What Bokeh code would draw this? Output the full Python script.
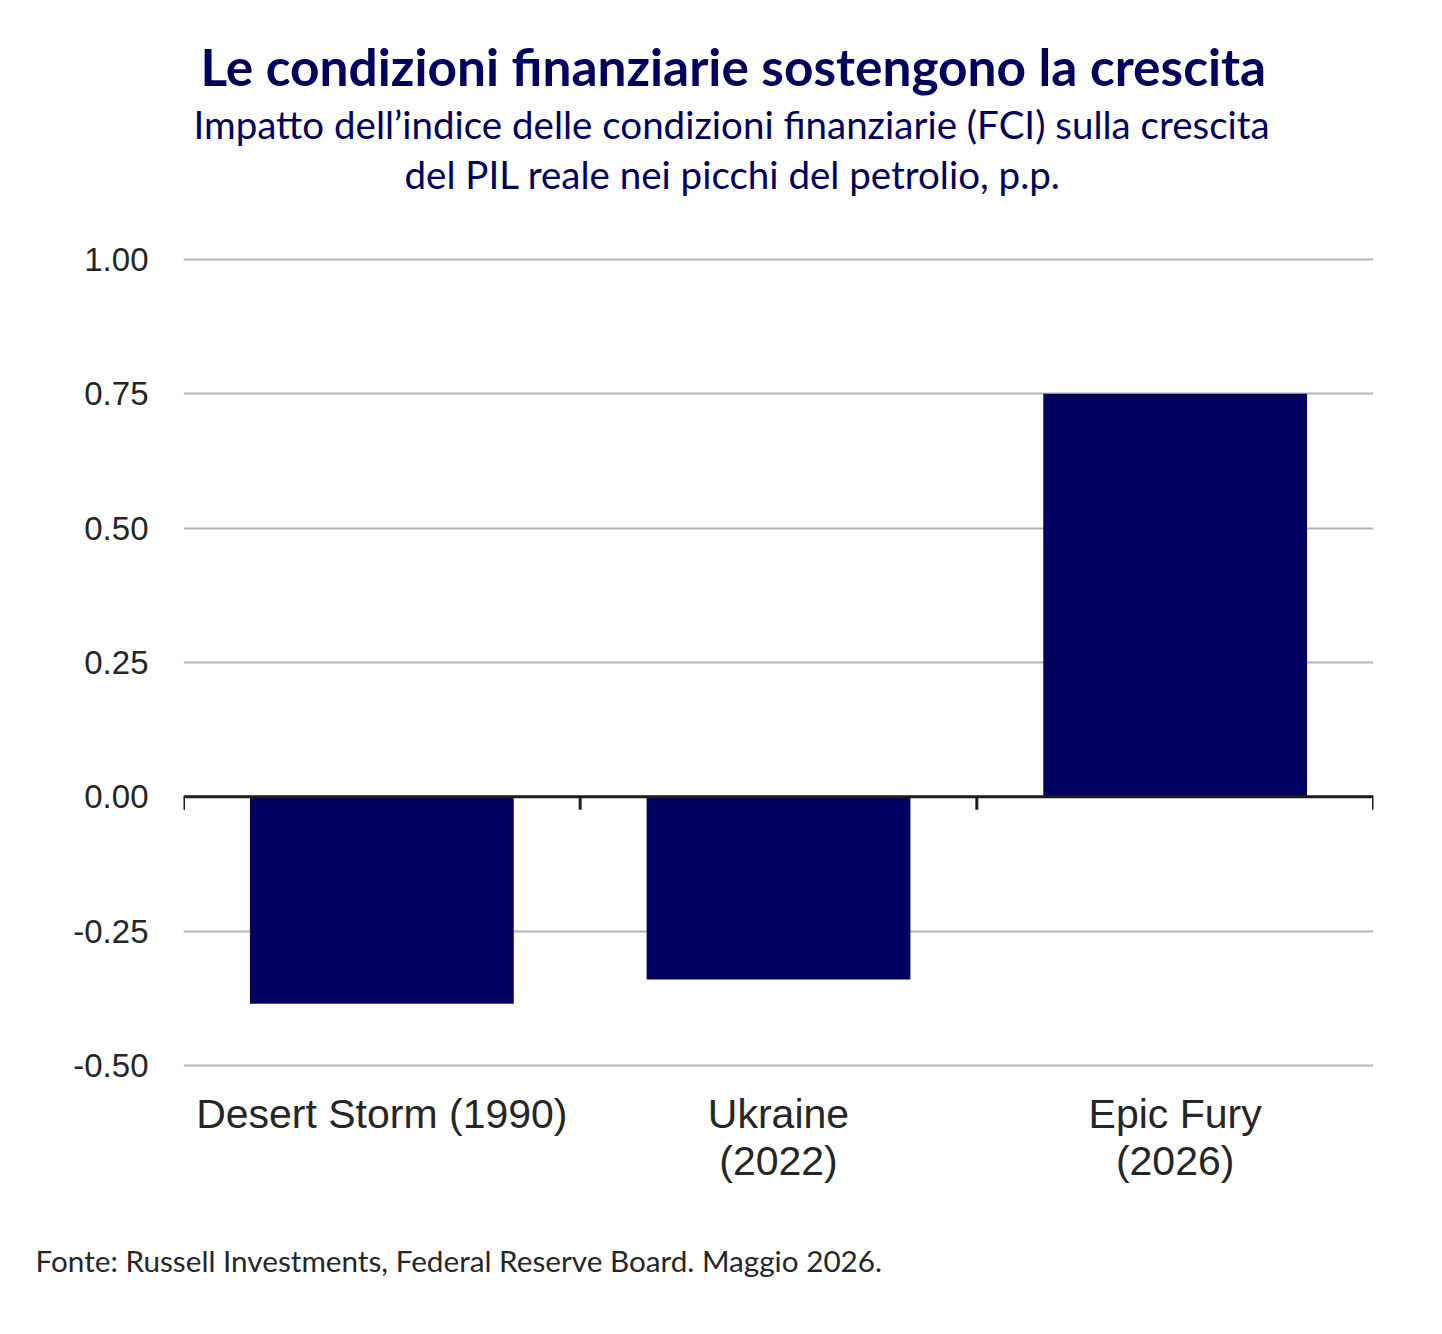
from bokeh.plotting import figure
from bokeh.models import (Range1d, FixedTicker, Span, Title, ColumnDataSource)
from bokeh.embed import file_html
from bokeh.resources import INLINE

# ---- data ----
categories = ["Desert Storm (1990)", "Ukraine\n(2022)", "Epic Fury\n(2026)"]
values = [-0.385, -0.34, 0.75]
y_ticks = [-0.5, -0.25, 0.0, 0.25, 0.5, 0.75, 1.0]
y_tick_labels = ["-0.50", "-0.25", "0.00", "0.25", "0.50", "0.75", "1.00"]

title_text = "Le condizioni finanziarie sostengono la crescita"
subtitle_1 = "Impatto dell\u2019indice delle condizioni finanziarie (FCI) sulla crescita"
subtitle_2 = "del PIL reale nei picchi del petrolio, p.p."
footer_text = "Fonte: Russell Investments, Federal Reserve Board. Maggio 2026."

NAVY = "#00005E"
TEXT = "#262626"

n = len(categories)
centers = [i + 0.5 for i in range(n)]
boundaries = list(range(n + 1))
pad = 0.0093

p = figure(width=1430, height=1334, output_backend="svg", toolbar_location=None,
           x_range=Range1d(0, n), y_range=Range1d(y_ticks[0] - pad, y_ticks[-1] + pad),
           min_border_left=183, min_border_right=57, min_border_top=254,
           min_border_bottom=264)
p.outline_line_color = None
p.background_fill_color = "white"
p.border_fill_color = "white"

src = ColumnDataSource(dict(x=centers, top=values))
p.vbar(x="x", top="top", bottom=0, width=0.665, source=src,
       fill_color=NAVY, line_color=None)

# grid
p.xgrid.grid_line_color = None
p.ygrid.grid_line_color = "#B4B4B4"
p.ygrid.grid_line_width = 2.2
p.yaxis.ticker = FixedTicker(ticks=y_ticks)
p.ygrid.ticker = FixedTicker(ticks=y_ticks)

# y axis
p.yaxis.axis_line_color = None
p.yaxis.major_tick_line_color = None
p.yaxis.minor_tick_line_color = None
p.yaxis.major_tick_out = 0
p.yaxis.major_tick_in = 0
p.yaxis.major_label_overrides = {t: l for t, l in zip(y_ticks, y_tick_labels)}
p.yaxis.major_label_text_font = "Liberation Sans"
p.yaxis.major_label_text_font_size = "33px"
p.yaxis.major_label_text_color = TEXT
p.yaxis.major_label_standoff = 35

# x axis (labels only at bottom)
p.xaxis.ticker = FixedTicker(ticks=centers)
p.xaxis.major_label_overrides = {c: l for c, l in zip(centers, categories)}
p.xaxis.axis_line_color = None
p.xaxis.major_tick_line_color = None
p.xaxis.minor_tick_line_color = None
p.xaxis.major_tick_out = 0
p.xaxis.major_tick_in = 0
p.xaxis.major_label_text_font = "Liberation Sans"
p.xaxis.major_label_text_font_size = "41px"
p.xaxis.major_label_text_line_height = 1.03
p.xaxis.major_label_text_color = TEXT
p.xaxis.major_label_standoff = 20

# zero line and category boundary ticks
p.add_layout(Span(location=0, dimension="width", line_color="#1E1E1E", line_width=3))
p.segment(x0=boundaries, y0=[0] * len(boundaries), x1=boundaries,
          y1=[-0.024] * len(boundaries), line_color="#1E1E1E", line_width=3)

# titles (stacked above the frame; first added is closest to the frame)
p.add_layout(Title(text=" ", text_font_size="1px", standoff=54), "above")  # spacer
p.add_layout(Title(text=subtitle_2, align="left", offset=221, text_font="Lato",
                   text_font_style="normal", text_font_size="38.5px",
                   text_color=NAVY, standoff=2), "above")
p.add_layout(Title(text=subtitle_1, align="left", offset=10, text_font="Lato",
                   text_font_style="normal", text_font_size="38.5px",
                   text_color=NAVY, standoff=2), "above")
p.add_layout(Title(text=title_text, align="left", offset=17, text_font="Lato",
                   text_font_style="bold", text_font_size="51.4px",
                   text_color=NAVY, standoff=2), "above")
p.add_layout(Title(text=footer_text, align="left", offset=-148, text_font="Lato",
                   text_font_style="normal", text_font_size="29.7px",
                   text_color=TEXT, standoff=108), "below")

open("out.html", "w").write(file_html(p, INLINE))
